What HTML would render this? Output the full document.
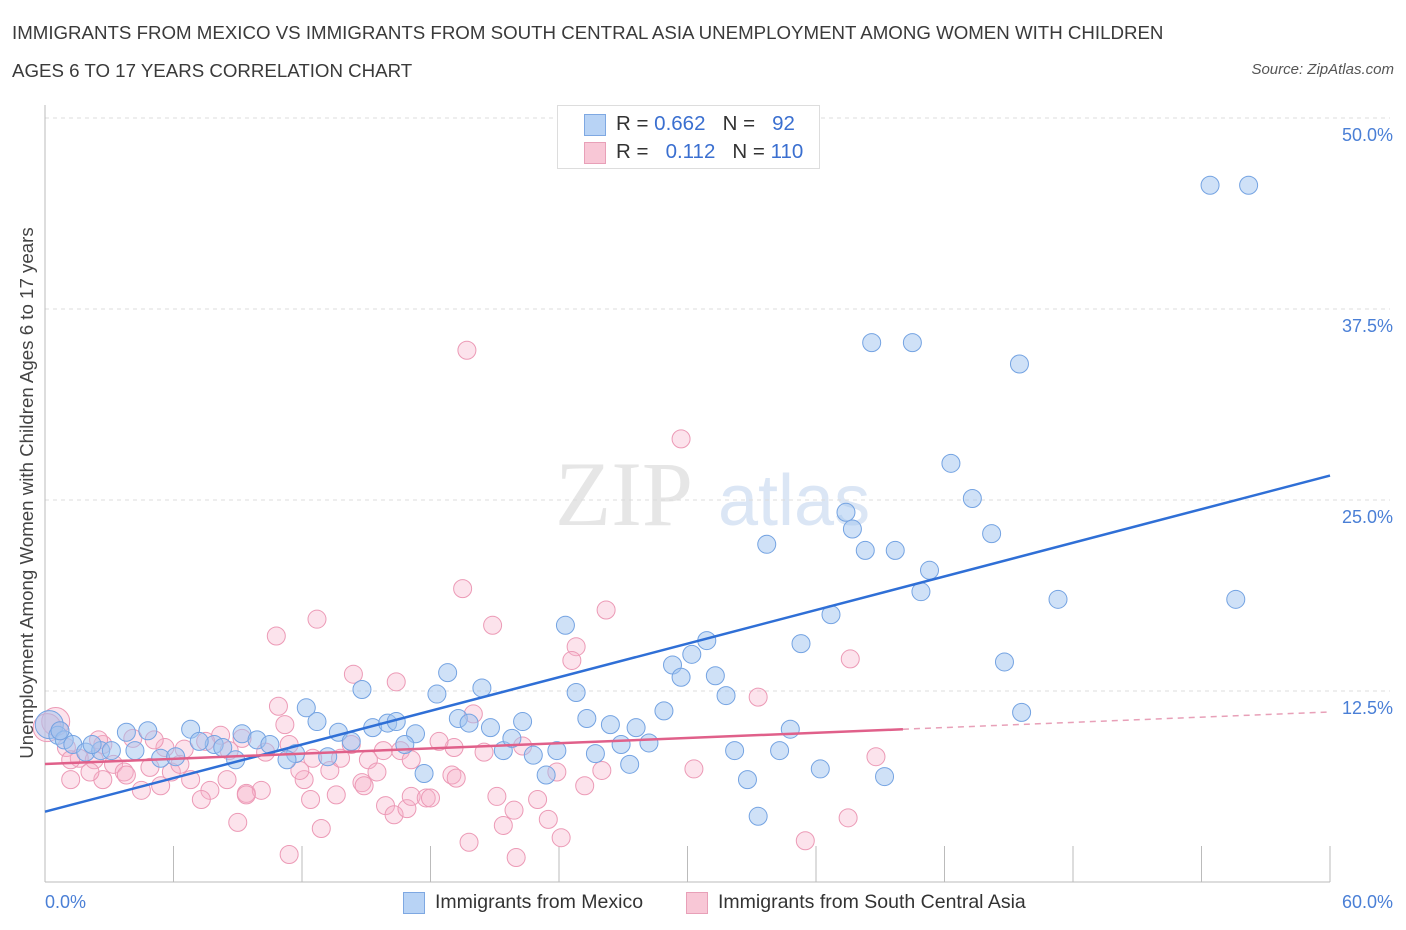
<!DOCTYPE html>
<html><head><meta charset="utf-8"><style>
body{margin:0;background:#fff;font-family:"Liberation Sans",sans-serif;}
#wrap{position:relative;width:1406px;height:930px;overflow:hidden}
.t{position:absolute;white-space:nowrap}
</style></head><body>
<div id="wrap">
<div class="t" style="left:12px;top:14px;font-size:18.7px;color:#3a3a3a;line-height:38px">IMMIGRANTS FROM MEXICO VS IMMIGRANTS FROM SOUTH CENTRAL ASIA UNEMPLOYMENT AMONG WOMEN WITH CHILDREN<br>AGES 6 TO 17 YEARS CORRELATION CHART</div>
<div class="t" style="right:12px;top:61px;font-size:15px;color:#555;font-style:italic">Source: ZipAtlas.com</div>
<svg id="plot" width="1406" height="930" style="position:absolute;left:0;top:0"></svg>
<div class="t" style="left:27px;top:493px;font-size:18.7px;color:#444;transform:translate(-50%,-50%) rotate(-90deg);">Unemployment Among Women with Children Ages 6 to 17 years</div>
<div style="position:absolute;left:557px;top:105px;width:261px;height:62px;border:1px solid #ddd;background:#fff;font-size:20.5px;color:#333">
 <div style="position:absolute;left:26px;top:8px;width:20px;height:20px;background:#b8d3f5;border:1px solid #7ea8e2"></div>
 <div class="t" style="left:58px;top:6px">R = <span style="color:#3a6fd0">0.662</span>&nbsp;&nbsp;&nbsp;N = &nbsp;&nbsp;<span style="color:#3a6fd0">92</span></div>
 <div style="position:absolute;left:26px;top:36px;width:20px;height:20px;background:#f8c7d6;border:1px solid #e8a0b8"></div>
 <div class="t" style="left:58px;top:34px">R = &nbsp;&nbsp;<span style="color:#3a6fd0">0.112</span>&nbsp;&nbsp;&nbsp;N = <span style="color:#3a6fd0">110</span></div>
</div>
<div style="position:absolute;top:891px;left:403px;font-size:19.5px;color:#333">
 <div style="position:absolute;left:0;top:1px;width:20px;height:20px;background:#b8d3f5;border:1px solid #7ea8e2"></div>
 <div class="t" style="left:32px;top:0">Immigrants from Mexico</div>
 <div style="position:absolute;left:283px;top:1px;width:20px;height:20px;background:#f8c7d6;border:1px solid #e8a0b8"></div>
 <div class="t" style="left:315px;top:0">Immigrants from South Central Asia</div>
</div>
</div>
<script>
const yTicks=[12.5,25,37.5,50];
const yTickLabels=["12.5%","25.0%","37.5%","50.0%"];
const xTickLabels=["0.0%","60.0%"];
const blueX=[54.4,56.2,38.6,40.5,45.5,42.3,43.3,37.4,37.7,44.2,33.7,38.3,39.7,41.3,40.9,47.3,55.6,36.7,24.3,30.9,30.2,35.3,29.3,29.7,31.3,44.8,18.8,14.8,18.3,20.4,24.8,31.8,12.2,28.9,45.6,19.3,19.8,12.7,15.3,16.0,16.4,22.3,25.3,26.4,27.6,17.3,20.8,13.7,6.8,3.8,4.8,9.2,34.8,14.3,16.8,21.4,21.8,26.9,28.2,22.8,23.9,25.7,32.2,34.3,7.9,9.9,10.5,11.7,13.2,27.3,23.4,17.7,32.8,36.2,39.2,33.3,0.2,0.6,0.9,1.3,1.9,2.6,3.1,4.2,5.4,6.1,8.3,8.9,11.3,7.2,0.7,2.2];
const blueY=[45.6,45.6,35.3,35.3,33.9,27.4,25.1,24.2,23.1,22.8,22.1,21.7,21.7,20.4,19.0,18.5,18.5,17.5,16.8,15.8,14.9,15.6,14.2,13.4,13.5,14.4,13.7,12.6,12.3,12.7,12.4,12.2,11.4,11.2,11.1,10.7,10.4,10.5,10.1,10.4,10.5,10.5,10.7,10.3,10.1,9.7,10.1,9.8,10.0,9.8,9.9,9.7,10.0,9.2,9.0,8.6,9.4,9.0,9.1,8.3,8.6,8.4,8.6,8.6,9.0,9.3,9.0,8.4,8.2,7.7,7.0,7.1,6.7,7.4,6.9,4.3,10.3,9.6,9.3,9.0,8.5,8.6,8.6,8.6,8.1,8.2,8.8,8.0,8.0,9.2,9.9,9.0];
const pinkX=[19.7,29.7,19.5,26.2,12.7,10.8,20.9,24.8,24.6,37.6,14.4,16.4,33.3,20.0,11.2,10.9,9.2,8.2,7.5,6.5,5.6,4.1,2.7,2.5,0.7,0.5,0.1,1.0,1.6,1.2,2.3,3.2,3.7,4.9,5.9,6.8,7.7,8.5,9.4,10.1,12.1,11.9,12.5,13.3,13.8,14.3,15.1,15.5,14.8,15.8,16.6,17.1,19.1,20.5,22.3,23.9,25.2,26.0,30.3,38.8,2.7,3.8,5.4,7.3,9.0,9.4,12.4,13.6,15.9,16.3,16.9,17.1,17.8,18.0,19.0,19.2,21.1,21.9,21.4,23.0,23.5,24.1,19.8,22.0,12.9,11.4,35.5,37.5,6.3,4.5,2.1,1.2,5.1,8.6,10.3,11.4,18.4,14.9];
const pinkY=[34.8,29.0,19.2,17.8,17.2,16.1,16.8,15.4,14.5,14.6,13.6,13.1,12.1,11.0,10.3,11.5,9.4,9.6,9.2,8.7,8.8,9.4,9.0,9.3,9.9,10.5,10.1,8.8,8.1,8.0,8.0,7.7,7.2,7.5,7.2,6.7,6.0,6.7,5.8,6.0,6.7,7.3,8.1,7.3,8.1,9.0,8.0,7.2,6.5,8.6,8.6,8.0,8.8,8.5,8.9,7.2,6.3,7.3,7.4,8.2,6.7,7.0,6.3,5.4,3.9,5.7,5.4,5.7,5.0,4.4,4.8,5.6,5.5,5.5,7.0,6.8,5.6,4.7,3.7,5.4,4.1,2.9,2.6,1.6,3.5,1.8,2.7,4.2,7.7,6.0,7.2,6.7,9.3,8.6,8.5,9.0,9.2,6.3];
const blueTrend=[4.6,26.6];
const pinkTrend=[7.72,11.13];
const pinkSolidEnd=40.06;

const X0=45,X1=1330,Y0=882,Y1=118;
const sx=v=>X0+(v/60)*(X1-X0);
const sy=v=>Y0-(v/50)*(Y0-Y1);
const NS="http://www.w3.org/2000/svg";
const svg=document.getElementById('plot');
function mk(tag,attrs){const e=document.createElementNS(NS,tag);for(const k in attrs)e.setAttribute(k,attrs[k]);svg.appendChild(e);return e;}
let wm=mk('text',{x:555,y:525,'font-size':92,'font-family':'Liberation Serif,serif',fill:'#e6e6e6'});wm.textContent='ZIP';


let wm2=mk('text',{x:718,y:525,'font-size':72,'font-family':'Liberation Sans,sans-serif',fill:'#dbe6f5'});wm2.textContent='atlas';


yTicks.forEach((t,i)=>{
 const g=mk('line',{x1:X0,x2:X1+60,y1:sy(t),y2:sy(t),stroke:'#dcdcdc','stroke-dasharray':'4,4'});
 
 
 const l=mk('text',{x:1393,y:sy(t)+23,'text-anchor':'end','font-size':18,fill:'#4a7fd6','font-family':'Liberation Sans,sans-serif'});
 l.textContent=yTickLabels[i];
 
 
});
let ax=mk('line',{x1:X0,x2:X0,y1:105,y2:Y0,stroke:'#bbb'});


let axx=mk('line',{x1:X0,x2:X1,y1:Y0,y2:Y0,stroke:'#bbb'});


for(let i=0;i<=10;i++){
 const tk=mk('line',{x1:sx(i*6),x2:sx(i*6),y1:Y0,y2:Y0-(i===0?0:36),stroke:'#bbb'});
 
 
}
[[0,'start',45],[60,'end',1393]].forEach((d,i)=>{
 const l=mk('text',{x:d[2],y:908,'text-anchor':d[1],'font-size':18,fill:'#4a7fd6','font-family':'Liberation Sans,sans-serif'});
 l.textContent=xTickLabels[i];
 
 
});
function pts(xs,ys,fill,stroke,name){
 xs.forEach((x,i)=>{
  const r=(x<1&&ys[i]>10)?14:9;
  const c=mk('circle',{cx:sx(x),cy:sy(ys[i]),r:r,fill:fill,stroke:stroke,'stroke-width':1});
  
  
 });
}
pts(pinkX,pinkY,'rgba(246,175,200,0.35)','#ec9ab6','point-south-central-asia');
pts(blueX,blueY,'rgba(160,195,240,0.5)','#74a3e2','point-mexico');
let bl=mk('line',{x1:sx(0),y1:sy(blueTrend[0]),x2:sx(60),y2:sy(blueTrend[1]),stroke:'#2f6fd6','stroke-width':2.5});


const pAt=v=>pinkTrend[0]+(pinkTrend[1]-pinkTrend[0])*v/60;
let pl=mk('line',{x1:sx(0),y1:sy(pAt(0)),x2:sx(pinkSolidEnd),y2:sy(pAt(pinkSolidEnd)),stroke:'#e0608a','stroke-width':2.5});


let pd=mk('line',{x1:sx(pinkSolidEnd),y1:sy(pAt(pinkSolidEnd)),x2:sx(60),y2:sy(pAt(60)),stroke:'#e8a0b8','stroke-width':1.5,'stroke-dasharray':'6,5'});


</script>
</body></html>
